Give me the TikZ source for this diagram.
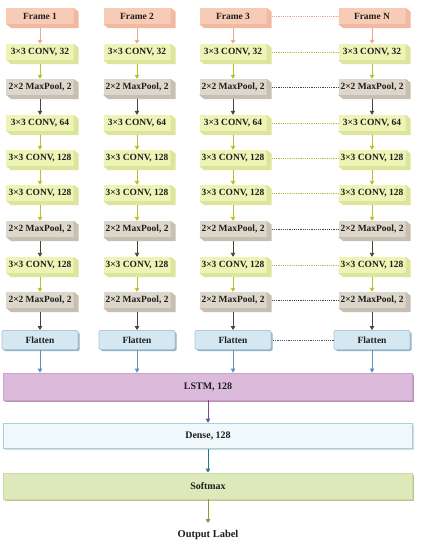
\documentclass[tikz,border=0pt]{standalone}
\usepackage{fontspec}
\setmainfont{Liberation Serif}
\usetikzlibrary{arrows.meta,calc,shadows}
\definecolor{frmF}{HTML}{F8CBB6}
\definecolor{frmS}{HTML}{F1B9A2}
\definecolor{frmA}{HTML}{EFA78D}
\definecolor{cnvF}{HTML}{EEF3B6}
\definecolor{cnvS}{HTML}{DDE59C}
\definecolor{cnvA}{HTML}{B4C32C}
\definecolor{cnvD}{HTML}{C4BC3A}
\definecolor{mxpF}{HTML}{DDD6CA}
\definecolor{mxpS}{HTML}{C7BFB2}
\definecolor{mxpA}{HTML}{4B433D}
\definecolor{frmD}{HTML}{EBA58C}
\definecolor{mxpD}{HTML}{4B433D}
\definecolor{flF}{HTML}{D5E7F1}
\definecolor{flD}{HTML}{A9CADC}
\definecolor{flS}{HTML}{8FB2C8}
\definecolor{flA}{HTML}{5B8EC6}
\definecolor{flDot}{HTML}{4A5870}
\definecolor{lsF}{HTML}{DCBADC}
\definecolor{lsD}{HTML}{CAA2CA}
\definecolor{lsS}{HTML}{B98FB9}
\definecolor{lsA}{HTML}{7C4895}
\definecolor{dnF}{HTML}{EFF8FA}
\definecolor{dnD}{HTML}{9FD3DE}
\definecolor{dnA}{HTML}{1F7B80}
\definecolor{smF}{HTML}{DDE9BB}
\definecolor{smD}{HTML}{CCDBA3}
\definecolor{smS}{HTML}{B8C98A}
\definecolor{smA}{HTML}{8B963F}
\definecolor{txt}{HTML}{1E1E1E}
\newcommand{\blk}[5]{%
  \node[lyr, fill=#4F] (#1) at (#2,#3) {#5};
  \fill[#4S] (#1.north east) -- ++(5,4) -- ($(#1.south east)+(5,4)$) -- ($(#1.south west)+(5,4)$) -- (#1.south west) -- (#1.south east) -- cycle;
}
\begin{document}
\begin{tikzpicture}[x=1bp,y=-1bp,
  lyr/.style={minimum width=67bp, minimum height=16bp, inner sep=0pt, font=\fontsize{9.5}{10}\selectfont\bfseries, text=txt},
  arr/.style={line width=0.9bp, -{Triangle[length=4bp,width=4.5bp]}},
  dot/.style={line width=0.7bp, dash pattern=on 1.2bp off 1bp},
  flat/.style={rounded corners=1.5bp, fill=flF, draw=flD, line width=0.8bp, minimum width=76bp, minimum height=19bp, inner sep=0pt, font=\fontsize{9.5}{10}\selectfont\bfseries, text=txt, general shadow={fill=flS, shadow xshift=1.5bp, shadow yshift=-1.5bp}},
  wide/.style={minimum width=409bp, inner sep=0pt, font=\fontsize{10}{12}\selectfont\bfseries, text=txt}]
\useasboundingbox (0,0) rectangle (420,550);
\fill[white] (0,0) rectangle (420,550);
\foreach \c/\x/\lab in {1/40/1, 2/137/2, 3/233/3, 4/372/N} {
  \blk{n\c-1}{\x}{16}{frm}{Frame \lab}
  \blk{n\c-2}{\x}{52}{cnv}{3×3 CONV, 32}
  \blk{n\c-3}{\x}{87}{mxp}{2×2 MaxPool, 2}
  \blk{n\c-4}{\x}{123}{cnv}{3×3 CONV, 64}
  \blk{n\c-5}{\x}{158}{cnv}{3×3 CONV, 128}
  \blk{n\c-6}{\x}{193}{cnv}{3×3 CONV, 128}
  \blk{n\c-7}{\x}{229}{mxp}{2×2 MaxPool, 2}
  \blk{n\c-8}{\x}{265}{cnv}{3×3 CONV, 128}
  \blk{n\c-9}{\x}{300}{mxp}{2×2 MaxPool, 2}
  \node[flat] (fl\c) at (\x,340) {Flatten};
}
\node[wide, minimum height=27bp, fill=lsF, draw=lsD, line width=0.8bp, general shadow={fill=lsS, shadow xshift=1.5bp, shadow yshift=-1.5bp}] (lstm) at (208,386.5) {LSTM, 128};
\node[wide, minimum height=25bp, fill=dnF, draw=dnD, line width=1.6bp, general shadow={fill=black!15, shadow xshift=1.2bp, shadow yshift=-1.2bp}] (dense) at (208,436) {Dense, 128};
\node[wide, minimum height=26bp, fill=smF, draw=smD, line width=0.8bp, general shadow={fill=smS, shadow xshift=1.5bp, shadow yshift=-1.5bp}] (soft) at (208,486) {Softmax};
\node[font=\fontsize{10.5}{12}\selectfont\bfseries, text=txt, inner sep=1pt] (out) at (208,535) {Output Label};
% column arrows
\foreach \c in {1,2,3,4} {
  \foreach \r/\t in {1/frm,2/cnv,3/mxp,4/cnv,5/cnv,6/cnv,7/mxp,8/cnv} {
    \pgfmathtruncatemacro\nx{\r+1}
    \draw[arr, \t A] ([yshift=-4bp]n\c-\r.south) -- (n\c-\nx.north);
  }
  \draw[arr, mxpA] ([yshift=-4bp]n\c-9.south) -- (fl\c.north);
  \draw[arr, flA] (fl\c.south) -- (fl\c.south |- lstm.north);
}
% dotted links between column 3 and column N
\foreach \r/\t in {1/frm,2/cnv,3/mxp,4/cnv,5/cnv,6/cnv,7/mxp,8/cnv,9/mxp} {
  \draw[dot, \t D] ([xshift=5bp]n3-\r.east) -- (n4-\r.west);
}
\draw[dot, flDot] ([xshift=1.5bp]fl3.east) -- (fl4.west);
\draw[arr, lsA] (lstm.south) -- (dense.north);
\draw[arr, dnA] (dense.south) -- (soft.north);
\draw[arr, smA] (soft.south) -- ([yshift=6bp]out.north);
\end{tikzpicture}
\end{document}
